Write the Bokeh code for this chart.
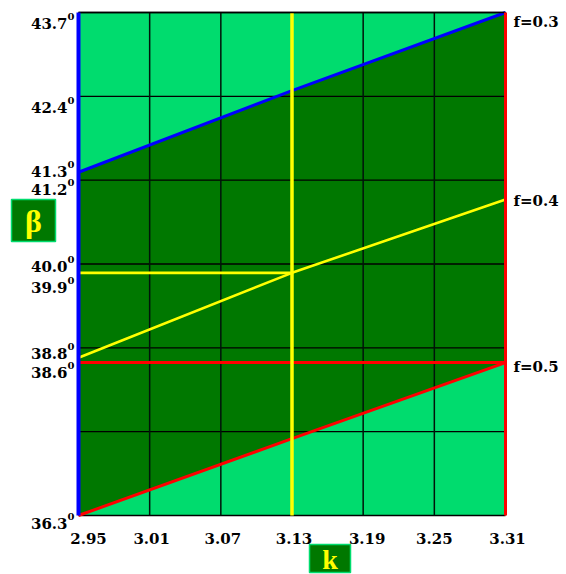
from bokeh.plotting import figure
from bokeh.models import Range1d, ColumnDataSource
from bokeh.core.properties import value
from bokeh.embed import file_html
from bokeh.resources import INLINE

# ---- data ----
k_points = [2.95, 3.13, 3.31]
beta_f03 = [41.35, 42.55, 43.7]      # blue, f=0.3
beta_f04 = [38.62, 39.87, 40.95]     # yellow, f=0.4
beta_low = [36.3, 37.43, 38.55]      # red diagonal
beta_f05 = 38.55                     # red horizontal, f=0.5
k_sel = 3.13
beta_sel = 39.87
k_min, k_max = 2.95, 3.31
b_min, b_max = 36.3, 43.7
x_ticks = [2.95, 3.01, 3.07, 3.13, 3.19, 3.25, 3.31]
y_grid_n = 6
y_labels = [43.7, 42.4, 41.3, 41.2, 40.0, 39.9, 38.8, 38.6, 36.3]
f_labels = ["f=0.3", "f=0.4", "f=0.5"]

# ---- layout (pixels) ----
W, H = 566, 574
frame_left, frame_right = 78, 505     # canvas px of k_min, k_max
frame_top, frame_bottom = 12, 515     # canvas px of b_max, b_min
sx = (frame_right - frame_left) / (k_max - k_min)
sy = (frame_bottom - frame_top) / (b_max - b_min)
x0 = k_min - frame_left / sx
y1 = b_max + frame_top / sy

def px_x(px):
    return x0 + px / sx

def px_y(py):
    return y1 - py / sy

LIGHT = "#00DC6E"
DARK = "#007800"
FONT = "DejaVu Serif"

p = figure(width=W, height=H, output_backend="svg", toolbar_location=None,
           x_range=Range1d(x0, x0 + W / sx), y_range=Range1d(y1 - H / sy, y1),
           x_axis_location=None, y_axis_location=None, min_border=0,
           outline_line_color=None, background_fill_color="white",
           border_fill_color="white")
p.xgrid.visible = False
p.ygrid.visible = False

# light background of plot area
p.quad(left=[k_min], right=[k_max], bottom=[b_min], top=[b_max],
       fill_color=LIGHT, line_color=None)
# dark region between blue and red diagonal
poly_x = k_points + k_points[::-1]
poly_y = beta_f03 + beta_low[::-1]
p.patch(poly_x, poly_y, fill_color=DARK, line_color=None)

# grid
step = (b_max - b_min) / y_grid_n
gy = [b_min + i * step for i in range(y_grid_n + 1)]
p.segment(x0=[k_min] * len(gy), x1=[k_max] * len(gy), y0=gy, y1=gy,
          line_color="black", line_width=1.3)
vx = x_ticks[1:-1]
p.segment(x0=vx, x1=vx, y0=[b_min] * len(vx), y1=[b_max] * len(vx),
          line_color="#00140a", line_width=1.5)

# curves
p.line(k_points, beta_f04, line_color="#FFFF00", line_width=2.6)
p.line([k_min, k_sel], [beta_sel, beta_sel], line_color="#FFFF00", line_width=2.6)
p.line(k_points, beta_low, line_color="#FF0000", line_width=3)
p.line([k_min, k_max], [beta_f05, beta_f05], line_color="#FF0000", line_width=3)
p.line(k_points, beta_f03, line_color="#0000FF", line_width=3)
p.line([k_sel, k_sel], [b_min, b_max], line_color="#FFFF00", line_width=3.5)
# borders
p.line([k_min, k_max], [b_max, b_max], line_color="black", line_width=1.5)
p.line([k_max, k_max], [b_min, b_max], line_color="#FF0000", line_width=3)
p.line([k_min, k_min], [b_min, b_max], line_color="#0000FF", line_width=4)

# y labels with superscript 0
y_off = [11, 6.6, -4.2, 7, 2.5, 16.7, 8, 13.3, 8]
ysrc = ColumnDataSource(dict(x=[k_min] * len(y_labels), y=y_labels,
                             t=["%.1f" % v for v in y_labels],
                             s=["0"] * len(y_labels),
                             o=y_off, o2=[v - 7 for v in y_off]))
p.text(x="x", y="y", text="t", source=ysrc, text_align="right",
       text_baseline="alphabetic", x_offset=-11, y_offset="o",
       text_font=value(FONT), text_font_style="bold", text_font_size="15px",
       text_color="black")
p.text(x="x", y="y", text="s", source=ysrc, text_align="left",
       text_baseline="alphabetic", x_offset=-11, y_offset="o2",
       text_font=value(FONT), text_font_style="bold", text_font_size="10px",
       text_color="black")

# x labels
x_off = [10, 2, 2, 2, 4, 0, 2]
xsrc = ColumnDataSource(dict(x=x_ticks, y=[b_min] * len(x_ticks),
                             t=["%.2f" % v for v in x_ticks], o=x_off))
p.text(x="x", y="y", text="t", source=xsrc, text_align="center",
       text_baseline="alphabetic", x_offset="o", y_offset=23,
       text_font=value(FONT), text_font_style="bold", text_font_size="15px",
       text_color="black")

# right labels
fsrc = ColumnDataSource(dict(x=[k_max] * 3, y=[beta_f03[-1], beta_f04[-1], beta_f05],
                             t=f_labels, o=[9, 2, 4]))
p.text(x="x", y="y", text="t", source=fsrc, text_align="left",
       text_baseline="alphabetic", x_offset=8, y_offset="o",
       text_font=value(FONT), text_font_style="bold", text_font_size="15px",
       text_color="black")

# axis title boxes
bx, by = px_x(33), px_y(220)
kx, ky = px_x(329.5), px_y(558)
p.rect(x=[bx, kx], y=[by, ky], width=[44, 41], height=[42, 28],
       width_units="screen", height_units="screen",
       fill_color=DARK, line_color=LIGHT, line_width=1.5)
p.text(x=[bx], y=[by], text=["β"], text_align="center", text_baseline="middle",
       text_font=value("Liberation Serif"), text_font_style="bold",
       text_font_size="32px", text_color="#FFFF00")
p.text(x=[kx], y=[ky], text=["k"], text_align="center", text_baseline="middle",
       text_font=value("Liberation Serif"), text_font_style="bold",
       text_font_size="28px", text_color="#FFFF00", y_offset=1)

open("out.html", "w").write(file_html(p, INLINE))
